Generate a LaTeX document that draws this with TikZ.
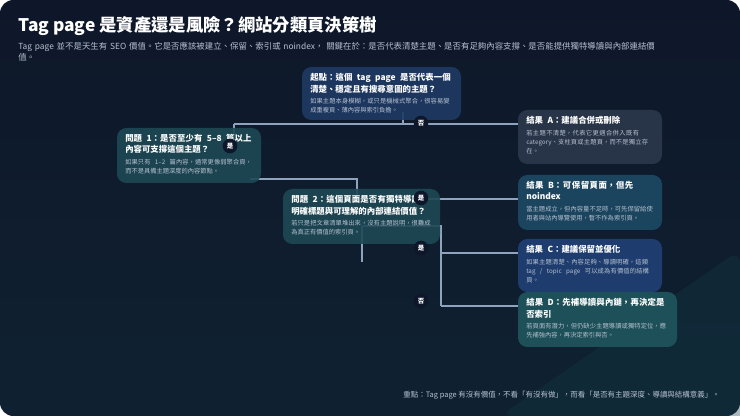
\documentclass[tikz,border=0pt]{standalone}
\usepackage{fontspec}
\setmainfont{Noto Sans CJK TC}
\XeTeXlinebreaklocale "zh"
\XeTeXlinebreakskip=0pt plus 0.5pt
\definecolor{bgA}{HTML}{0E1729}
\definecolor{bgB}{HTML}{123A45}
\definecolor{lnC}{HTML}{8FA3BE}
\definecolor{txC}{HTML}{B5C0CF}
\newcommand{\bt}[1]{{\fontsize{6.3}{8.6}\selectfont\bfseries\color{white}#1\par}\vspace{2pt}}
\newcommand{\dt}[1]{{\fontsize{4.7}{6.8}\selectfont\color{txC}#1\par}}
\tikzset{x=0.75pt,y=-0.75pt,
 conn/.style={draw=lnC,line width=0.8pt},
 txt/.style={anchor=north west,align=left,inner sep=0},
 lab/.style={circle,fill=bgA,text=white,font=\fontsize{4.8}{5}\selectfont\bfseries,inner sep=1.6pt}}
\begin{document}
\begin{tikzpicture}
\useasboundingbox (0,0) rectangle (740,416);
\shade[rounded corners=10pt,top color=bgA,bottom color=bgA!70!bgB] (0,0) rectangle (740,416);
\fill[bgB,opacity=0.35,rounded corners=10pt] (500,416) -- (740,250) -- (740,406) arc(0:90:10) -- cycle;
\node[anchor=west,font=\fontsize{13}{15}\selectfont\bfseries,text=white,inner sep=0] (title) at (18,26) {Tag page 是資產還是風險？網站分類頁決策樹};
\node[anchor=north west,text width=478pt,align=left,font=\fontsize{6.3}{8.5}\selectfont,text=txC,inner sep=0] (sub) at (18,42) {Tag page 並不是天生有 SEO 價值。它是否應該被建立、保留、索引或 noindex， 關鍵在於：是否代表清楚主題、是否有足夠內容支撐、是否能提供獨特導讀與內部連結價值。};
% connectors
\coordinate (j1) at (234,124); \coordinate (j2) at (587,124);
\draw[conn] (403,112) -- (403,124);
\draw[conn] (j1) -- (j2) -- (587,134);
\draw[conn] (j1) -- (234,140);
\draw[conn] (250,179) -- (357,179) -- (357,200);
\draw[conn] (421,199) -- (587,199) -- (587,218);
\draw[conn] (362,226) -- (441,226) -- (441,306);
\draw[conn] (362,226) -- (362,262);
\draw[conn] (441,253) -- (530,253);
\draw[conn] (441,306) -- (530,306);
% boxes
\fill[rounded corners=7pt,fill={rgb,255:red,31;green,58;blue,100},opacity=0.9] (302,67) rectangle (461,120);
\node[txt,text width=107pt] (start) at (310,73) {\bt{起點：這個 tag page 是否代表一個清楚、穩定且有搜尋意圖的主題？}\dt{如果主題本身模糊，或只是機械式聚合，很容易變成重複頁、薄內容與索引負擔。}};
\fill[rounded corners=7pt,fill={rgb,255:red,29;green,72;blue,84},opacity=0.9] (117,128) rectangle (261,183);
\node[txt,text width=97pt] (q1) at (125,134) {\bt{問題 1：是否至少有 5–8 篇以上內容可支撐這個主題？}\dt{如果只有 1–2 篇內容，通常更像弱聚合頁，而不是具備主題深度的內容節點。}};
\fill[rounded corners=7pt,fill={rgb,255:red,29;green,72;blue,84},opacity=0.9] (283,189) rectangle (440,244);
\node[txt,text width=107pt] (q2) at (291,195) {\bt{問題 2：這個頁面是否有獨特導讀、明確標題與可理解的內部連結價值？}\dt{若只是把文章清單堆出來，沒有主題說明，很難成為真正有價值的索引頁。}};
\fill[rounded corners=7pt,fill={rgb,255:red,40;green,53;blue,72}] (518,110) rectangle (662,164);
\node[txt,text width=97pt] (ra) at (526,116) {\bt{結果 A：建議合併或刪除}\dt{若主題不清楚，代表它更適合併入既有 category、支柱頁或主題頁，而不是獨立存在。}};
\fill[rounded corners=7pt,fill={rgb,255:red,27;green,68;blue,94}] (518,175) rectangle (662,230);
\node[txt,text width=97pt] (rb) at (526,181) {\bt{結果 B：可保留頁面，但先 noindex}\dt{當主題成立，但內容量不足時，可先保留給使用者與站內導覽使用，暫不作為索引頁。}};
\fill[rounded corners=7pt,fill={rgb,255:red,30;green,61;blue,110}] (518,239) rectangle (662,292);
\node[txt,text width=97pt] (rc) at (526,245) {\bt{結果 C：建議保留並優化}\dt{如果主題清楚、內容足夠、導讀明確，這類 tag / topic page 可以成為有價值的結構頁。}};
\fill[rounded corners=7pt,fill={rgb,255:red,29;green,80;blue,88}] (518,292) rectangle (677,347);
\node[txt,text width=108pt] (rd) at (526,298) {\bt{結果 D：先補導讀與內鏈，再決定是否索引}\dt{若頁面有潛力，但仍缺少主題導讀或獨特定位，應先補強內容，再決定索引與否。}};
% labels
\node[lab] (l1) at (421,123) {否};
\node[lab] (l2) at (230,146) {是};
\node[lab] (l3) at (421,198) {是};
\node[lab] (l4) at (421,248) {是};
\node[lab] (l5) at (421,301) {否};
\node[anchor=east,font=\fontsize{5.6}{7}\selectfont,text=txC,inner sep=0] (foot) at (720,395) {重點：Tag page 有沒有價值，不看「有沒有做」，而看「是否有主題深度、導讀與結構意義」。};
\end{tikzpicture}
\end{document}
